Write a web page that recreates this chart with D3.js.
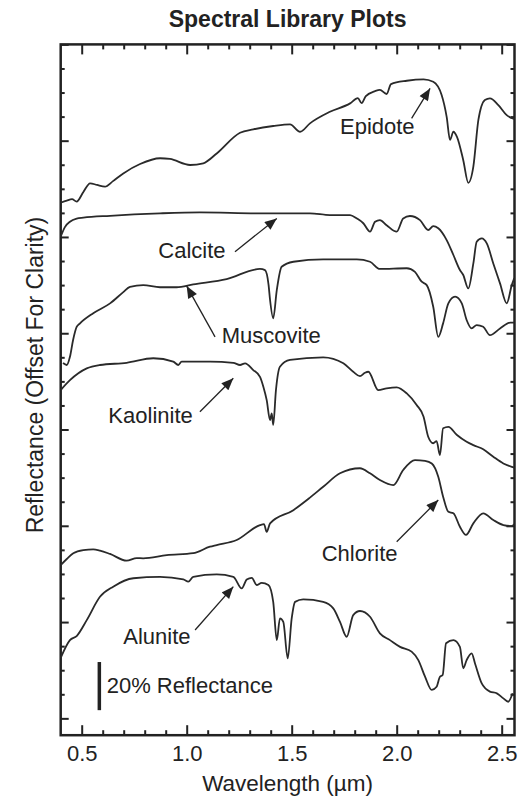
<!DOCTYPE html>
<html><head><meta charset="utf-8">
<script src="https://cdn.jsdelivr.net/npm/d3@7"></script>
<style>body{margin:0;background:#fff}svg{display:block}</style>
</head><body><svg id="c" width="532" height="798"></svg>
<script>
// ---- data: [wavelength (µm), reflectance + offset] ----
const epidote = [[0.400,2.142],[0.429,2.151],[0.454,2.157],[0.476,2.147],[0.508,2.187],[0.540,2.223],[0.573,2.216],[0.611,2.209],[0.649,2.232],[0.698,2.264],[0.778,2.303],[0.873,2.327],[0.920,2.324],[1.016,2.299],[1.079,2.306],[1.143,2.347],[1.254,2.433],[1.317,2.447],[1.412,2.461],[1.492,2.468],[1.540,2.437],[1.587,2.472],[1.682,2.520],[1.778,2.555],[1.815,2.577],[1.833,2.556],[1.853,2.585],[1.897,2.606],[1.920,2.611],[1.952,2.594],[1.973,2.635],[2.048,2.649],[2.128,2.655],[2.174,2.645],[2.214,2.590],[2.238,2.499],[2.254,2.403],[2.270,2.437],[2.287,2.416],[2.317,2.319],[2.341,2.225],[2.365,2.292],[2.389,2.486],[2.420,2.569],[2.444,2.576],[2.484,2.548],[2.524,2.506],[2.560,2.490]];
const calcite = [[0.400,2.001],[0.420,2.041],[0.444,2.063],[0.476,2.076],[0.508,2.080],[0.635,2.088],[0.873,2.098],[1.063,2.102],[1.349,2.098],[1.587,2.098],[1.682,2.091],[1.778,2.091],[1.810,2.077],[1.841,2.057],[1.873,2.022],[1.897,2.063],[1.920,2.070],[1.952,2.049],[2.000,2.022],[2.031,2.077],[2.063,2.087],[2.111,2.070],[2.150,2.029],[2.174,2.045],[2.198,2.036],[2.238,1.987],[2.270,1.925],[2.301,1.863],[2.317,1.842],[2.341,1.786],[2.365,1.890],[2.381,1.980],[2.405,1.994],[2.429,1.973],[2.460,1.890],[2.492,1.807],[2.524,1.724],[2.548,1.800],[2.560,1.829]];
const muscovite = [[0.411,1.476],[0.429,1.468],[0.444,1.502],[0.459,1.572],[0.476,1.626],[0.492,1.641],[0.555,1.683],[0.635,1.724],[0.698,1.771],[0.730,1.793],[0.793,1.800],[0.873,1.791],[0.952,1.791],[1.031,1.803],[1.190,1.825],[1.349,1.867],[1.373,1.862],[1.390,1.800],[1.397,1.738],[1.412,1.662],[1.429,1.779],[1.452,1.876],[1.508,1.897],[1.650,1.907],[1.810,1.907],[1.873,1.897],[1.920,1.867],[2.048,1.870],[2.087,1.855],[2.119,1.814],[2.143,1.800],[2.174,1.710],[2.198,1.585],[2.221,1.641],[2.246,1.724],[2.278,1.752],[2.310,1.724],[2.333,1.655],[2.357,1.620],[2.381,1.634],[2.412,1.627],[2.444,1.592],[2.492,1.620],[2.540,1.644],[2.560,1.644]];
const kaolinite = [[0.400,1.364],[0.444,1.405],[0.524,1.454],[0.587,1.468],[0.714,1.477],[0.841,1.496],[0.936,1.482],[0.960,1.468],[0.976,1.482],[1.111,1.482],[1.222,1.477],[1.254,1.468],[1.278,1.475],[1.317,1.447],[1.349,1.419],[1.365,1.378],[1.381,1.322],[1.397,1.239],[1.405,1.267],[1.412,1.219],[1.425,1.364],[1.444,1.461],[1.492,1.489],[1.650,1.500],[1.746,1.475],[1.793,1.440],[1.825,1.422],[1.849,1.436],[1.865,1.440],[1.912,1.364],[1.952,1.371],[2.000,1.375],[2.048,1.350],[2.095,1.302],[2.128,1.253],[2.150,1.170],[2.174,1.143],[2.190,1.152],[2.206,1.094],[2.221,1.205],[2.246,1.211],[2.287,1.177],[2.333,1.149],[2.365,1.135],[2.412,1.118],[2.460,1.087],[2.508,1.059],[2.548,1.045],[2.560,1.042]];
const chlorite = [[0.400,0.637],[0.429,0.662],[0.460,0.686],[0.508,0.699],[0.555,0.702],[0.587,0.697],[0.635,0.683],[0.714,0.655],[0.762,0.666],[0.793,0.665],[0.905,0.678],[1.031,0.686],[1.111,0.713],[1.143,0.720],[1.238,0.741],[1.349,0.803],[1.368,0.807],[1.381,0.775],[1.397,0.810],[1.508,0.865],[1.587,0.917],[1.650,0.962],[1.730,1.018],[1.825,1.039],[1.873,1.018],[1.920,0.990],[1.984,0.969],[2.031,1.032],[2.087,1.073],[2.135,1.070],[2.167,1.059],[2.198,1.004],[2.221,0.921],[2.246,0.858],[2.270,0.852],[2.301,0.796],[2.330,0.762],[2.365,0.810],[2.412,0.852],[2.460,0.824],[2.508,0.803],[2.548,0.799],[2.560,0.807]];
const alunite = [[0.400,0.251],[0.444,0.325],[0.476,0.342],[0.524,0.408],[0.587,0.505],[0.650,0.547],[0.746,0.582],[0.873,0.588],[0.984,0.577],[1.008,0.568],[1.031,0.588],[1.143,0.598],[1.222,0.588],[1.262,0.540],[1.286,0.577],[1.310,0.584],[1.333,0.554],[1.357,0.563],[1.389,0.554],[1.412,0.484],[1.429,0.325],[1.444,0.415],[1.460,0.401],[1.481,0.249],[1.500,0.415],[1.516,0.484],[1.555,0.494],[1.650,0.484],[1.698,0.457],[1.730,0.401],[1.762,0.339],[1.793,0.429],[1.825,0.446],[1.873,0.422],[1.920,0.353],[1.968,0.325],[2.016,0.297],[2.071,0.277],[2.103,0.242],[2.135,0.173],[2.167,0.118],[2.190,0.131],[2.206,0.173],[2.219,0.180],[2.235,0.312],[2.270,0.325],[2.301,0.297],[2.317,0.208],[2.333,0.242],[2.357,0.270],[2.373,0.228],[2.405,0.145],[2.444,0.111],[2.477,0.104],[2.508,0.083],[2.531,0.069],[2.552,0.104]];

const seriesNames = ["Epidote","Calcite","Muscovite","Kaolinite","Chlorite","Alunite"];
const seriesData = [epidote, calcite, muscovite, kaolinite, chlorite, alunite];

const xMajorTicks = [0.5, 1.0, 1.5, 2.0, 2.5];
const xTickLabels = ["0.5", "1.0", "1.5", "2.0", "2.5"];
const xMinorTicks = [0.6,0.7,0.8,0.9,1.1,1.2,1.3,1.4,1.6,1.7,1.8,1.9,2.1,2.2,2.3,2.4];
const yMajorTicks = [0.0, 0.4, 0.8, 1.2, 1.6, 2.0, 2.4, 2.8];
const yMinorTicks = [0.1,0.2,0.3,0.5,0.6,0.7,0.9,1.0,1.1,1.3,1.4,1.5,1.7,1.8,1.9,2.1,2.2,2.3,2.5,2.6,2.7];

// annotations: label anchor [x,y] and arrow tail -> tip, in data units
const annotations = [
  {text:"Epidote",   label:[1.730,2.426], from:[2.071,2.493], to:[2.159,2.617]},
  {text:"Calcite",   label:[0.865,1.911], from:[1.230,1.939], to:[1.429,2.077]},
  {text:"Muscovite", label:[1.167,1.558], from:[1.135,1.585], to:[1.000,1.796]},
  {text:"Kaolinite", label:[0.627,1.228], from:[1.063,1.274], to:[1.222,1.413]},
  {text:"Chlorite",  label:[1.643,0.655], from:[2.000,0.734], to:[2.198,0.907]},
  {text:"Alunite",   label:[0.698,0.309], from:[1.040,0.367], to:[1.222,0.547]}
];
const scaleBar = {x:0.584, y0:0.034, size:0.2, text:"20% Reflectance"};

// ---- layout ----
const FONT = "'Liberation Sans', Arial, Helvetica, sans-serif";
const INK = "#222";
const svg = d3.select("#c");
const x = d3.scaleLinear().domain([0.4, 2.561]).range([60.7, 514.5]);
const y = d3.scaleLinear().domain([-0.07, 2.8]).range([735.2, 44.4]);
const [L, R] = x.range(), [B, T] = y.range();

svg.append("defs").append("marker")
  .attr("id","ah").attr("viewBox","0 0 12 10").attr("refX",12).attr("refY",5)
  .attr("markerWidth",13).attr("markerHeight",10).attr("markerUnits","userSpaceOnUse")
  .attr("orient","auto")
  .append("path").attr("d","M0,0 L12,5 L0,10 Z").attr("fill",INK);

// title
svg.append("text").attr("x", (L+R)/2).attr("y", 27).attr("text-anchor","middle")
  .attr("font-family",FONT).attr("font-weight","bold").attr("font-size",23).attr("fill",INK)
  .text("Spectral Library Plots");

// axes
function styleAxis(g){ g.select(".domain").remove(); g.selectAll("line").attr("stroke",INK).attr("stroke-width",2); }
svg.append("g").attr("transform",`translate(0,${B})`)
  .call(d3.axisBottom(x).tickValues(xMinorTicks).tickFormat("").tickSize(-5).tickSizeOuter(0)).call(styleAxis);
const xb = svg.append("g").attr("transform",`translate(0,${B})`)
  .call(d3.axisBottom(x).tickValues(xMajorTicks).tickFormat((d,i)=>xTickLabels[i]).tickSize(-10).tickPadding(10).tickSizeOuter(0)).call(styleAxis);
xb.selectAll("text").attr("font-family",FONT).attr("font-size",22).attr("fill",INK);
svg.append("g").attr("transform",`translate(0,${T})`)
  .call(d3.axisTop(x).tickValues(xMinorTicks).tickFormat("").tickSize(-5).tickSizeOuter(0)).call(styleAxis);
svg.append("g").attr("transform",`translate(0,${T})`)
  .call(d3.axisTop(x).tickValues(xMajorTicks).tickFormat("").tickSize(-10).tickSizeOuter(0)).call(styleAxis);
[[d3.axisLeft, L],[d3.axisRight, R]].forEach(([ax, pos])=>{
  svg.append("g").attr("transform",`translate(${pos},0)`)
    .call(ax(y).tickValues(yMinorTicks).tickFormat("").tickSize(-4).tickSizeOuter(0)).call(styleAxis);
  svg.append("g").attr("transform",`translate(${pos},0)`)
    .call(ax(y).tickValues(yMajorTicks).tickFormat("").tickSize(-8).tickSizeOuter(0)).call(styleAxis);
});

// frame
svg.append("rect").attr("x",L).attr("y",T).attr("width",R-L).attr("height",B-T)
  .attr("fill","none").attr("stroke",INK).attr("stroke-width",2.5);

// axis titles
svg.append("text").attr("x",(L+R)/2).attr("y",791).attr("text-anchor","middle")
  .attr("font-family",FONT).attr("font-size",22.5).attr("fill",INK).text("Wavelength (µm)");
svg.append("text").attr("transform","translate(43,375) rotate(-90)").attr("text-anchor","middle")
  .attr("font-family",FONT).attr("font-size",23).attr("fill",INK).text("Reflectance (Offset For Clarity)");

// spectra
const line = d3.line().x(d=>x(d[0])).y(d=>y(d[1])).curve(d3.curveMonotoneX);
svg.append("g").selectAll("path").data(seriesData).join("path")
  .attr("d", line).attr("fill","none").attr("stroke","#2a2a2a").attr("stroke-width",1.8)
  .attr("stroke-linejoin","round");

// annotations
const ann = svg.append("g");
annotations.forEach(a=>{
  ann.append("line").attr("x1",x(a.from[0])).attr("y1",y(a.from[1]))
    .attr("x2",x(a.to[0])).attr("y2",y(a.to[1]))
    .attr("stroke",INK).attr("stroke-width",1.3).attr("marker-end","url(#ah)");
  ann.append("text").attr("x",x(a.label[0])).attr("y",y(a.label[1]))
    .attr("font-family",FONT).attr("font-size",22).attr("fill",INK).text(a.text);
});

// scale bar
svg.append("line").attr("x1",x(scaleBar.x)).attr("x2",x(scaleBar.x))
  .attr("y1",y(scaleBar.y0)).attr("y2",y(scaleBar.y0+scaleBar.size))
  .attr("stroke",INK).attr("stroke-width",3.5);
svg.append("text").attr("x",x(0.619)).attr("y",y(0.104))
  .attr("font-family",FONT).attr("font-size",22).attr("fill",INK).text(scaleBar.text);
</script></body></html>
